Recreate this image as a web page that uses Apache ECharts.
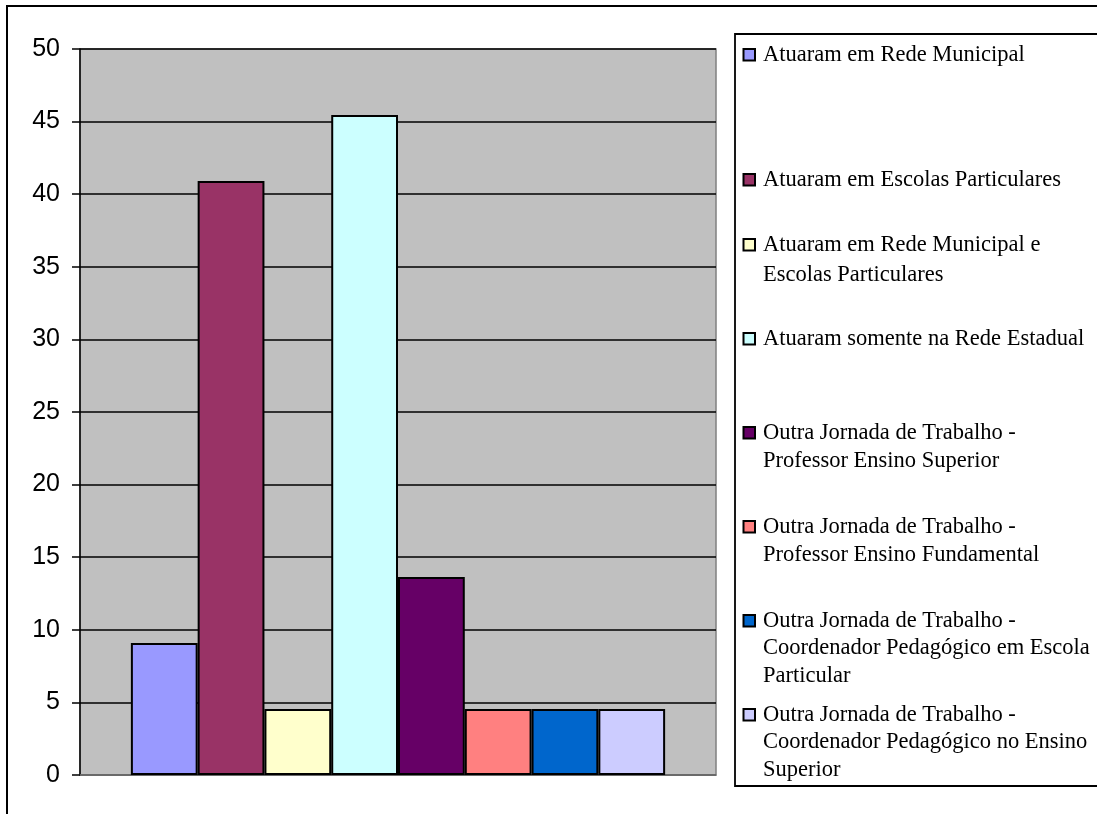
<!DOCTYPE html>
<html>
<head>
<meta charset="utf-8">
<style>
  html, body { margin: 0; padding: 0; background: #fff; }
  #chart { width: 1097px; height: 814px; }
</style>
<script src="https://cdn.jsdelivr.net/npm/echarts@6/dist/echarts.min.js"></script>
</head>
<body>
<div id="chart"></div>
<script>
// Percent of respondents per teaching context / other work shift
const seriesNames = [
  'Atuaram em Rede Municipal',
  'Atuaram em Escolas Particulares',
  'Atuaram em Rede Municipal e Escolas Particulares',
  'Atuaram somente na Rede Estadual',
  'Outra Jornada de Trabalho - Professor Ensino Superior',
  'Outra Jornada de Trabalho - Professor Ensino Fundamental',
  'Outra Jornada de Trabalho - Coordenador Pedagógico em Escola Particular',
  'Outra Jornada de Trabalho - Coordenador Pedagógico no Ensino Superior'
];
const legendLines = [
  ['Atuaram em Rede Municipal'],
  ['Atuaram em Escolas Particulares'],
  ['Atuaram em Rede Municipal e', 'Escolas Particulares'],
  ['Atuaram somente na Rede Estadual'],
  ['Outra Jornada de Trabalho -', 'Professor Ensino Superior'],
  ['Outra Jornada de Trabalho -', 'Professor Ensino Fundamental'],
  ['Outra Jornada de Trabalho -', 'Coordenador Pedagógico em Escola', 'Particular'],
  ['Outra Jornada de Trabalho -', 'Coordenador Pedagógico no Ensino', 'Superior']
];
const seriesValues = [9.09, 40.91, 4.55, 45.45, 13.64, 4.55, 4.55, 4.55];
const seriesColors = ['#9999FF', '#993366', '#FFFFCC', '#CCFFFF', '#660066', '#FF8080', '#0066CC', '#CCCCFF'];
const categories = [''];
const yTicks = { min: 0, max: 50, interval: 5 };

// legend layout: centre of each entry's first line and its line spacing
const legendFirstLineY = [55, 180, 245, 339, 433, 527, 621, 715];
const legendLineHeight = [29, 29, 30, 29, 28.5, 28.5, 27.5, 27.5];
const legendFont = '22.5px "Liberation Serif", "Times New Roman", serif';

const chart = echarts.init(document.getElementById('chart'));

// boxed legend on the right: swatch + wrapped label per series
const legendGraphics = [];
seriesNames.forEach((name, i) => {
  const y0 = legendFirstLineY[i];
  const lh = legendLineHeight[i];
  legendGraphics.push({
    type: 'rect',
    shape: { x: 743.5, y: y0 - 6, width: 11.5, height: 11.5 },
    style: { fill: seriesColors[i], stroke: '#000', lineWidth: 2 },
    silent: true, z: 50
  });
  legendGraphics.push({
    type: 'text',
    x: 763,
    y: y0 - lh / 2,
    style: {
      text: legendLines[i].join('\n'),
      font: legendFont,
      fill: '#000',
      lineHeight: lh,
      verticalAlign: 'top',
      align: 'left'
    },
    silent: true, z: 50
  });
});

const option = {
  animation: false,
  backgroundColor: '#fff',
  grid: {
    left: 80, top: 49, right: 381, bottom: 39,
    show: true,
    backgroundColor: '#C0C0C0',
    borderColor: '#808080',
    borderWidth: 1.5
  },
  xAxis: {
    type: 'category',
    data: categories,
    axisLine: { show: true, lineStyle: { color: '#808080', width: 1.5 } },
    axisTick: { show: false },
    axisLabel: { show: false }
  },
  yAxis: {
    type: 'value',
    min: yTicks.min,
    max: yTicks.max,
    interval: yTicks.interval,
    axisLine: { show: true, lineStyle: { color: '#000', width: 1.5 } },
    axisTick: { show: true, length: 8, lineStyle: { color: '#000', width: 1.5 } },
    axisLabel: {
      margin: 20,
      color: '#000',
      fontSize: 25,
      fontFamily: '"Liberation Sans", Arial, sans-serif'
    },
    splitLine: { show: true, lineStyle: { color: '#000', width: 1.5 } }
  },
  series: seriesNames.map((name, i) => ({
    name: name,
    type: 'bar',
    data: [seriesValues[i]],
    barGap: '0%',
    barCategoryGap: '16%',
    itemStyle: { color: seriesColors[i], borderColor: '#000', borderWidth: 2 }
  })),
  graphic: [
    {
      type: 'rect',
      shape: { x: 7, y: 6, width: 1200, height: 900 },
      style: { fill: 'none', stroke: '#000', lineWidth: 2 },
      z: 100, silent: true
    },
    {
      type: 'rect',
      shape: { x: 735, y: 34, width: 500, height: 752 },
      style: { fill: '#fff', stroke: '#000', lineWidth: 1.8 },
      z: 40, silent: true
    }
  ].concat(legendGraphics)
};

chart.setOption(option);
</script>
</body>
</html>
